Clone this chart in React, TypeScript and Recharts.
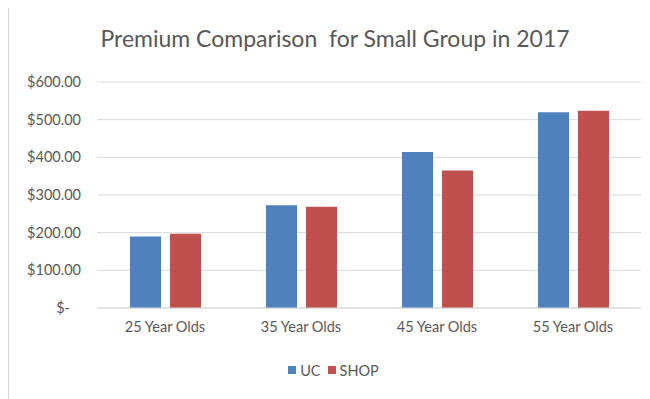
import { BarChart, Bar, XAxis, YAxis, CartesianGrid, Legend } from "recharts";

const ageGroups = ["25 Year Olds", "35 Year Olds", "45 Year Olds", "55 Year Olds"];
const ucPremiums = [190, 273, 414, 520];
const shopPremiums = [197, 269, 365, 524];
const yTicks = [0, 100, 200, 300, 400, 500, 600];

const rows = ageGroups.map((group, i) => ({
  group,
  UC: ucPremiums[i],
  SHOP: shopPremiums[i],
}));

const FONT = "Lato, 'Open Sans', sans-serif";
const TEXT = "#595959";
const BLUE = "#4F81BD";
const RED = "#C0504D";
const LABEL_SIZE = 14.5;

// accounting-style money label; zero shows as "$-"
function MoneyTick({ x, y, payload }: any) {
  const v = payload.value as number;
  const label = v === 0 ? "$-" : "$" + v.toFixed(2);
  return (
    <text
      x={v === 0 ? x - 11 : x}
      y={y}
      dy={5}
      textAnchor="end"
      fill={TEXT}
      fontSize={LABEL_SIZE}
      fontFamily={FONT}
    >
      {label}
    </text>
  );
}

function LegendRow() {
  const items = [
    { name: "UC", color: BLUE },
    { name: "SHOP", color: RED },
  ];
  return (
    <div
      style={{
        display: "flex",
        justifyContent: "center",
        height: 20,
        alignItems: "center",
        paddingLeft: 24,
        fontFamily: FONT,
        fontSize: LABEL_SIZE,
        color: TEXT,
      }}
    >
      {items.map((it) => (
        <span key={it.name} style={{ display: "inline-flex", alignItems: "center", marginRight: 7 }}>
          <span style={{ width: 8, height: 8, background: it.color, marginRight: 4, display: "inline-block" }} />
          {it.name}
        </span>
      ))}
    </div>
  );
}

export default function App() {
  return (
    <div
      style={{
        position: "relative",
        width: 641,
        height: 391,
        marginTop: -1,
        borderTop: "1px solid #d9d9d9",
        borderLeft: "1px solid #d9d9d9",
        background: "#fff",
      }}
    >
      <div
        style={{
          position: "absolute",
          left: 0,
          width: 652,
          top: 16,
          textAlign: "center",
          fontFamily: FONT,
          fontSize: 23,
          color: TEXT,
          whiteSpace: "pre",
        }}
      >
        {"Premium Comparison  for Small Group in 2017"}
      </div>
      <BarChart
        width={641}
        height={390}
        data={rows}
        margin={{ top: 74, right: 9, bottom: 18, left: 0 }}
        barGap={9}
        barCategoryGap={33}
      >
        <CartesianGrid vertical={false} stroke="#d9d9d9" />
        <XAxis
          dataKey="group"
          axisLine={{ stroke: "#d9d9d9" }}
          tickLine={false}
          tickSize={0}
          tickMargin={14}
          height={52}
          tick={{ fill: TEXT, fontSize: LABEL_SIZE, fontFamily: FONT }}
        />
        <YAxis
          width={88}
          domain={[0, 600]}
          ticks={yTicks}
          axisLine={false}
          tickLine={false}
          tickSize={0}
          tickMargin={16}
          tick={<MoneyTick />}
        />
        <Legend verticalAlign="bottom" content={<LegendRow />} />
        <Bar dataKey="UC" fill={BLUE} isAnimationActive={false} />
        <Bar dataKey="SHOP" fill={RED} isAnimationActive={false} />
      </BarChart>
    </div>
  );
}
